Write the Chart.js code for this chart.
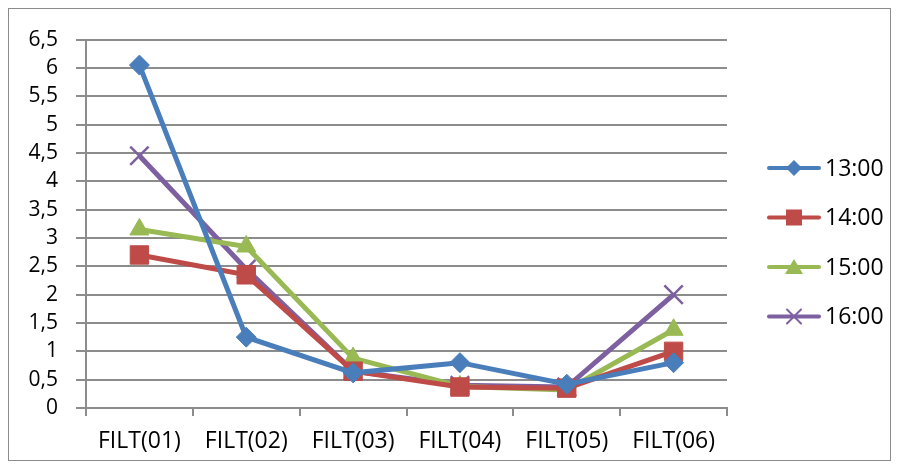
<!DOCTYPE html>
<html lang="en">
<head>
    <meta charset="UTF-8">
    <title>FILT</title>
    <style>
        body {
            margin: 0;
            background: #fff;
        }
        #frame {
            position: absolute;
            left: 8px;
            top: 8px;
            width: 881px;
            height: 451px;
            border: 1px solid #8c8c8c;
        }
    </style>
</head>
<body>
    <div id="frame"><canvas id="chart"></canvas></div>

    <script src="https://cdn.jsdelivr.net/npm/chart.js"></script>
    <script>
        const categories = ['FILT(01)', 'FILT(02)', 'FILT(03)', 'FILT(04)', 'FILT(05)', 'FILT(06)'];
        const seriesNames = ['13:00', '14:00', '15:00', '16:00'];
        const values1300 = [6.05, 1.25, 0.62, 0.8, 0.42, 0.8];
        const values1400 = [2.7, 2.35, 0.65, 0.37, 0.35, 1.0];
        const values1500 = [3.15, 2.85, 0.88, 0.38, 0.32, 1.38];
        const values1600 = [4.45, 2.45, 0.65, 0.4, 0.37, 2.0];

        const colors = ['#4a7ebb', '#be4b48', '#98b954', '#7d60a0'];
        const styles = ['rectRot', 'rect', 'triangle', 'crossRot'];
        const radii = [10, 13, 11, 13];
        const fontFamily = "'Open Sans', sans-serif";

        // small marker shapes for the legend
        function drawMarker(g, i, x, y) {
            g.fillStyle = colors[i];
            g.strokeStyle = colors[i];
            g.beginPath();
            if (i === 0) {
                g.moveTo(x, y - 8); g.lineTo(x + 8, y); g.lineTo(x, y + 8); g.lineTo(x - 8, y);
                g.closePath(); g.fill();
            } else if (i === 1) {
                g.fillRect(x - 8, y - 8, 16, 16);
            } else if (i === 2) {
                g.moveTo(x, y - 8); g.lineTo(x + 9, y + 7); g.lineTo(x - 9, y + 7);
                g.closePath(); g.fill();
            } else {
                g.lineWidth = 2;
                g.moveTo(x - 7, y - 7); g.lineTo(x + 7, y + 7);
                g.moveTo(x + 7, y - 7); g.lineTo(x - 7, y + 7);
                g.stroke();
            }
        }

        const sideLegend = {
            id: 'sideLegend',
            afterDraw(chart) {
                const g = chart.ctx;
                g.save();
                chart.data.datasets.forEach((d, i) => {
                    const y = 159 + i * 49.5;
                    g.strokeStyle = d.borderColor;
                    g.lineWidth = 4;
                    g.lineCap = 'round';
                    g.beginPath();
                    g.moveTo(760, y);
                    g.lineTo(810, y);
                    g.stroke();
                    drawMarker(g, i, 785, y);
                    g.fillStyle = '#000';
                    g.font = '23px ' + fontFamily;
                    g.textBaseline = 'middle';
                    g.fillText(d.label, 816, y + 1);
                });
                g.restore();
            }
        };

        const allValues = [values1300, values1400, values1500, values1600];
        const datasets = allValues.map((vals, i) => ({
            label: seriesNames[i],
            data: vals,
            borderColor: colors[i],
            backgroundColor: colors[i],
            borderWidth: 5,
            pointStyle: styles[i],
            pointRadius: radii[i],
            pointHoverRadius: radii[i],
            pointBorderWidth: i === 3 ? 2.5 : 1,
            pointBackgroundColor: colors[i],
            pointBorderColor: colors[i],
            tension: 0
        }));

        new Chart(document.getElementById('chart'), {
            type: 'line',
            data: { labels: categories, datasets: datasets },
            options: {
                responsive: true,
                maintainAspectRatio: false,
                animation: false,
                layout: { padding: { top: 30, right: 163, bottom: 0, left: 0 } },
                plugins: {
                    tooltip: { enabled: false },
                    legend: { display: false }
                },
                scales: {
                    x: {
                        offset: true,
                        afterFit: s => { s.height = 52; },
                        border: { color: '#8c8c8c', width: 2 },
                        grid: {
                            offset: true,
                            drawOnChartArea: false,
                            drawTicks: true,
                            tickLength: 8,
                            color: '#8c8c8c',
                            lineWidth: 2
                        },
                        ticks: {
                            color: '#000',
                            padding: 12,
                            maxRotation: 0,
                            font: { family: fontFamily, size: 23 }
                        }
                    },
                    y: {
                        min: 0,
                        max: 6.5,
                        afterFit: s => { s.width = 77; },
                        border: { color: '#8c8c8c', width: 2 },
                        grid: {
                            color: '#8c8c8c',
                            lineWidth: 2,
                            tickLength: 10
                        },
                        ticks: {
                            stepSize: 0.5,
                            color: '#000',
                            padding: 18,
                            font: { family: fontFamily, size: 21 },
                            callback: v => String(v).replace('.', ',')
                        }
                    }
                }
            },
            plugins: [sideLegend]
        });
    </script>
</body>
</html>
